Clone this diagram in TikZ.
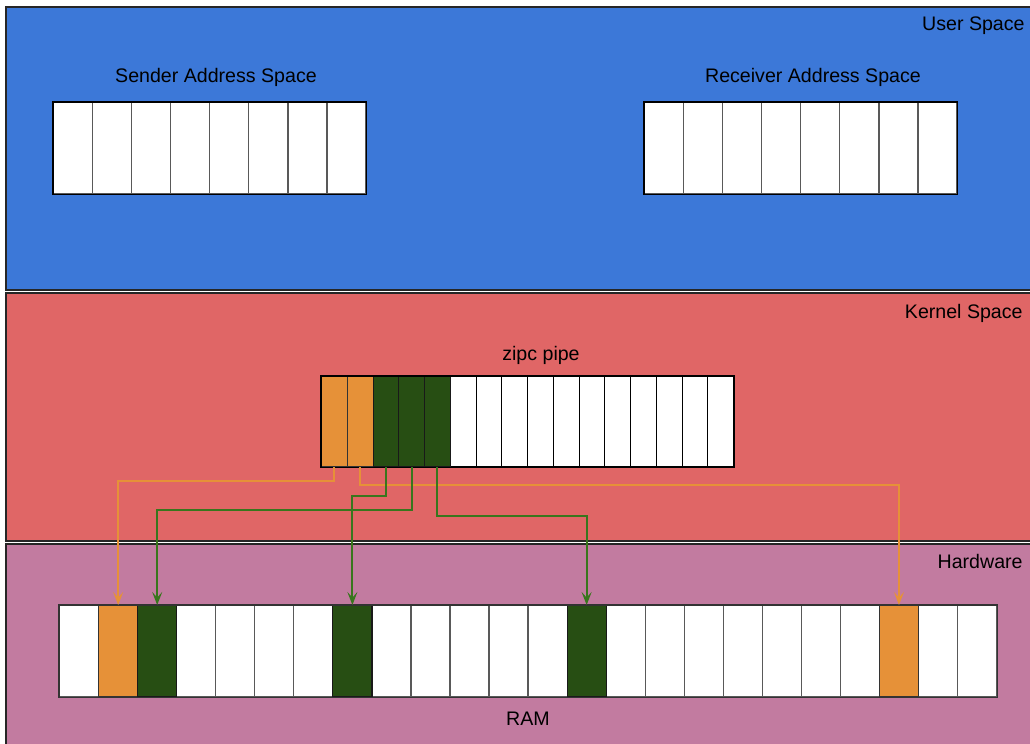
\documentclass[tikz,border=0pt]{standalone}
\usepackage{fontspec}
\setmainfont{Liberation Sans}
\usetikzlibrary{arrows.meta}
\definecolor{ublue}{HTML}{3C78D8}
\definecolor{kred}{HTML}{E06666}
\definecolor{hpink}{HTML}{C27BA0}
\definecolor{corange}{HTML}{E69138}
\definecolor{cgreen}{HTML}{274E13}
\definecolor{lgreen}{HTML}{38761D}
\tikzset{
  layer/.style={draw=black!85, line width=0.6pt},
  lbl/.style={font=\fontsize{9.8}{12}\selectfont, text=black, inner sep=0pt},
  cellbig/.style={draw=black!65, line width=0.6pt, fill=white, minimum width=19.55pt, minimum height=45.5pt, inner sep=0pt, anchor=north west},
  cellram/.style={draw=black!65, line width=0.6pt, fill=white, minimum width=19.52pt, minimum height=45.5pt, inner sep=0pt, anchor=north west},
  cellpipe/.style={draw=black, line width=0.6pt, fill=white, minimum width=12.875pt, minimum height=45pt, inner sep=0pt, anchor=north west},
  ofill/.style={fill=corange, draw=black!80},
  gfill/.style={fill=cgreen, draw=black!90},
  oline/.style={draw=corange, line width=1pt, -{Stealth[length=6.5pt,width=5pt,inset=2.8pt]}},
  gline/.style={draw=lgreen, line width=1pt, -{Stealth[length=6.5pt,width=5pt,inset=2.8pt]}},
}
\begin{document}
\begin{tikzpicture}[x=0.5pt,y=-0.5pt]
\useasboundingbox (0,0) rectangle (1030,744);
\clip (0,0) rectangle (1030,744);
\fill[white] (0,0) rectangle (1030,744);
% layers
\draw[layer, fill=ublue] (6,7) rectangle (1045,290);
\draw[layer, fill=kred] (6,293) rectangle (1045,541);
\draw[layer, fill=hpink] (6,544) rectangle (1045,760);
\node[lbl, anchor=east] (us) at (1025,26) {User Space};
\node[lbl, anchor=east] (ks) at (1023,313) {Kernel Space};
\node[lbl, anchor=east] (hw) at (1023,561) {Hardware};
% user space arrays
\node[lbl] (sl) at (216,77) {Sender Address Space};
\node[lbl] (rl) at (813,77) {Receiver Address Space};
\foreach \i in {0,...,7} {
  \node[cellbig] (s\i) at ({53+39.05*\i},102) {};
  \node[cellbig] (q\i) at ({644+39.05*\i},102) {};
}
\draw[black, line width=0.6pt] (s0.north west) rectangle (s7.south east);
\draw[black, line width=0.6pt] (q0.north west) rectangle (q7.south east);
% pipe
\node[lbl] (pl) at (541,355) {zipc pipe};
\foreach \i in {0,...,15} {
  \node[cellpipe] (p\i) at ({321+25.75*\i},376) {};
}
\foreach \i in {0,1} { \node[cellpipe, ofill] at (p\i.north west) {}; }
\foreach \i in {2,3,4} { \node[cellpipe, gfill] at (p\i.north west) {}; }
\draw[black, line width=0.6pt] (p0.north west) rectangle (p15.south east);
% RAM
\foreach \i in {0,...,23} {
  \node[cellram] (r\i) at ({59+39.04*\i},605) {};
}
\foreach \i in {1,21} { \node[cellram, ofill] at (r\i.north west) {}; }
\foreach \i in {2,7,13} { \node[cellram, gfill] at (r\i.north west) {}; }
\draw[black!80, line width=0.6pt] (r0.north west) rectangle (r23.south east);
\node[lbl] (ram) at (528,719) {RAM};
% connectors
\draw[oline] (p0.south) -- ++(0,14) -| (r1.north);
\draw[oline] (p1.south) -- ++(0,17.7) -| (r21.north);
\draw[gline] (p2.south) -- ++(0,28.7) -| (r7.north);
\draw[gline] (p3.south) -- ++(0,42.7) -| (r2.north);
\draw[gline] (p4.south) -- ++(0,48.7) -| (r13.north);
\end{tikzpicture}
\end{document}
